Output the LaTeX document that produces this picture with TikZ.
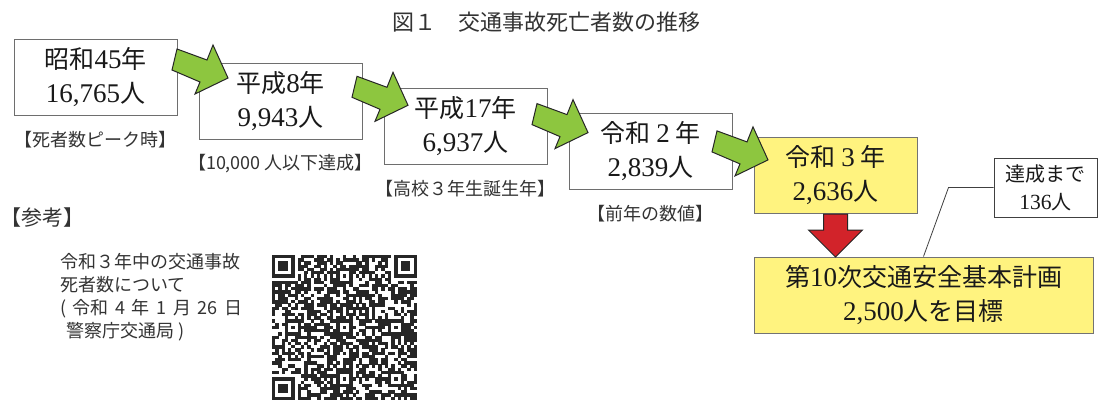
\documentclass[tikz,border=0pt]{standalone}
\usepackage{fontspec}
\setmainfont{Liberation Serif}
\newfontfamily\jp{Noto Sans CJK JP}
\newfontfamily\srf[Scale=1.08]{Liberation Serif}
\usetikzlibrary{calc}
\definecolor{gfill}{HTML}{8DC63F}
\definecolor{yfill}{HTML}{FFF37F}
\definecolor{rfill}{HTML}{D2232A}
\definecolor{txt}{HTML}{333333}
\definecolor{bord}{HTML}{6E6E6E}
\def\qm{3.22}
\newcommand\qrfinder[2]{%
  \fill[white] (#1*\qm-\qm,#2*\qm-\qm) rectangle ++(9*\qm,9*\qm);
  \fill[qr] (#1*\qm,#2*\qm) rectangle ++(7*\qm,7*\qm);
  \fill[white] (#1*\qm+\qm,#2*\qm+\qm) rectangle ++(5*\qm,5*\qm);
  \fill[qr] (#1*\qm+2*\qm,#2*\qm+2*\qm) rectangle ++(3*\qm,3*\qm);}
\newcommand\qralign[2]{%
  \fill[qr] (#1*\qm-2*\qm,#2*\qm-2*\qm) rectangle ++(5*\qm,5*\qm);
  \fill[white] (#1*\qm-\qm,#2*\qm-\qm) rectangle ++(3*\qm,3*\qm);
  \fill[qr] (#1*\qm,#2*\qm) rectangle ++(\qm,\qm);}
\begin{document}
\begin{tikzpicture}[x=1pt,y=-1pt,
  box/.style={draw=bord,line width=1pt,fill=white,minimum width=163pt,minimum height=76pt,inner sep=0pt,align=center,font=\jp\fontsize{25}{34}\selectfont,text=black!90},
  ybox/.style={box,fill=yfill,draw=black!55},
  lab/.style={font=\jp\fontsize{18}{22}\selectfont,text=txt,inner sep=0pt},
  garrow/.style={fill=gfill,draw=black!85,line width=1pt,line join=miter},
  rarrow/.style={fill=rfill,draw=black!85,line width=1pt},
  qr/.style={fill=black!85}]
\useasboundingbox (0,0) rectangle (1099,400);
\fill[white] (0,0) rectangle (1099,400);

\node[font=\jp\fontsize{22}{26}\selectfont,text=txt,inner sep=0pt] (title) at (546,22) {図１　交通事故死亡者数の推移};

% boxes
\node[box] (b1) at (95.5,77) {昭和{\srf 45}年\\{\srf 16,765}人};
\node[box] (b2) at (280.5,101.5) {平成{\srf 8}年\\{\srf 9,943}人};
\node[box] (b3) at (465.5,126) {平成{\srf 17}年\\{\srf 6,937}人};
\node[box] (b4) at (650.5,151) {令和\makebox[25pt]{\srf 2}年\\{\srf 2,839}人};
\node[ybox] (b5) at (835.5,175.5) {令和\makebox[25pt]{\srf 3}年\\{\srf 2,636}人};
\node[ybox,minimum width=339pt] (goal) at (923.5,295) {第{\srf 10}次交通安全基本計画\\{\srf 2,500}人を目標};
\node[box,draw=black!75,minimum width=103pt,minimum height=59pt,font=\jp\fontsize{20}{28}\selectfont] (small) at (1045.5,187.5) {達成まで\\{\srf 136}人};

% labels
\node[lab] (l1) at ($(b1.south)+(0,24.5)$) {【死者数ピーク時】};
\node[lab] (l2) at ($(b2.south)+(0,24)$) {【10,000 人以下達成】};
\node[lab] (l3) at ($(b3.south)+(0,24)$) {【高校３年生誕生年】};
\node[lab] (l4) at ($(b4.south)+(0,24)$) {【前年の数値】};

% green arrows
\foreach \k in {0,1,2,3}{
  \draw[garrow,shift={(180*\k,27.3*\k)}] (177,49) -- (207,60) -- (213,45) -- (228,78) -- (195,94) -- (200,82) -- (172,70) -- cycle;
}

% red arrow
\draw[rarrow,shift={(b5.south)}] (-12,0) -- (12,0) -- (12,16) -- (27,16) -- (0,43) -- (-27,16) -- (-12,16) -- cycle;

% callout
\draw[black!75,line width=0.8pt] (small.west) -- ++(-45,0) -- (goal.north);

% reference
\node[font=\jp\fontsize{21}{24}\selectfont,text=txt,inner sep=0pt,anchor=west] (ref) at (0,218) {【参考】};
\node[font=\jp\fontsize{18}{23}\selectfont,text=txt,align=left,anchor=north west,inner sep=0pt] (note) at (60,253) {令和３年中の交通事故\\死者数について\\\makebox[182pt][s]{( 令和 4 年 1 月 26 日}\\\hspace*{6pt}警察庁交通局 )};

% QR code
\begin{scope}[shift={(272,255)}]
\pgfmathsetseed{4242}
\foreach \i in {0,...,44}{\foreach \j in {0,...,44}{%
  \pgfmathtruncatemacro\bit{rnd<0.56}%
  \ifnum\bit=1 \fill[qr] (\i*\qm,\j*\qm) rectangle ++(\qm+0.2,\qm+0.2);\fi}}
\fill[white] (8*\qm,6*\qm) rectangle ++(30*\qm,\qm);
\fill[white] (6*\qm,8*\qm) rectangle ++(\qm,30*\qm);
\foreach \t in {8,10,...,36}{
  \fill[qr] (\t*\qm,6*\qm) rectangle ++(\qm,\qm);
  \fill[qr] (6*\qm,\t*\qm) rectangle ++(\qm,\qm);}
\qrfinder{0}{0}
\qrfinder{38}{0}
\qrfinder{0}{38}
\qralign{6}{22}\qralign{22}{6}\qralign{22}{22}
\qralign{22}{38}\qralign{38}{22}\qralign{38}{38}
\end{scope}
\end{tikzpicture}
\end{document}
